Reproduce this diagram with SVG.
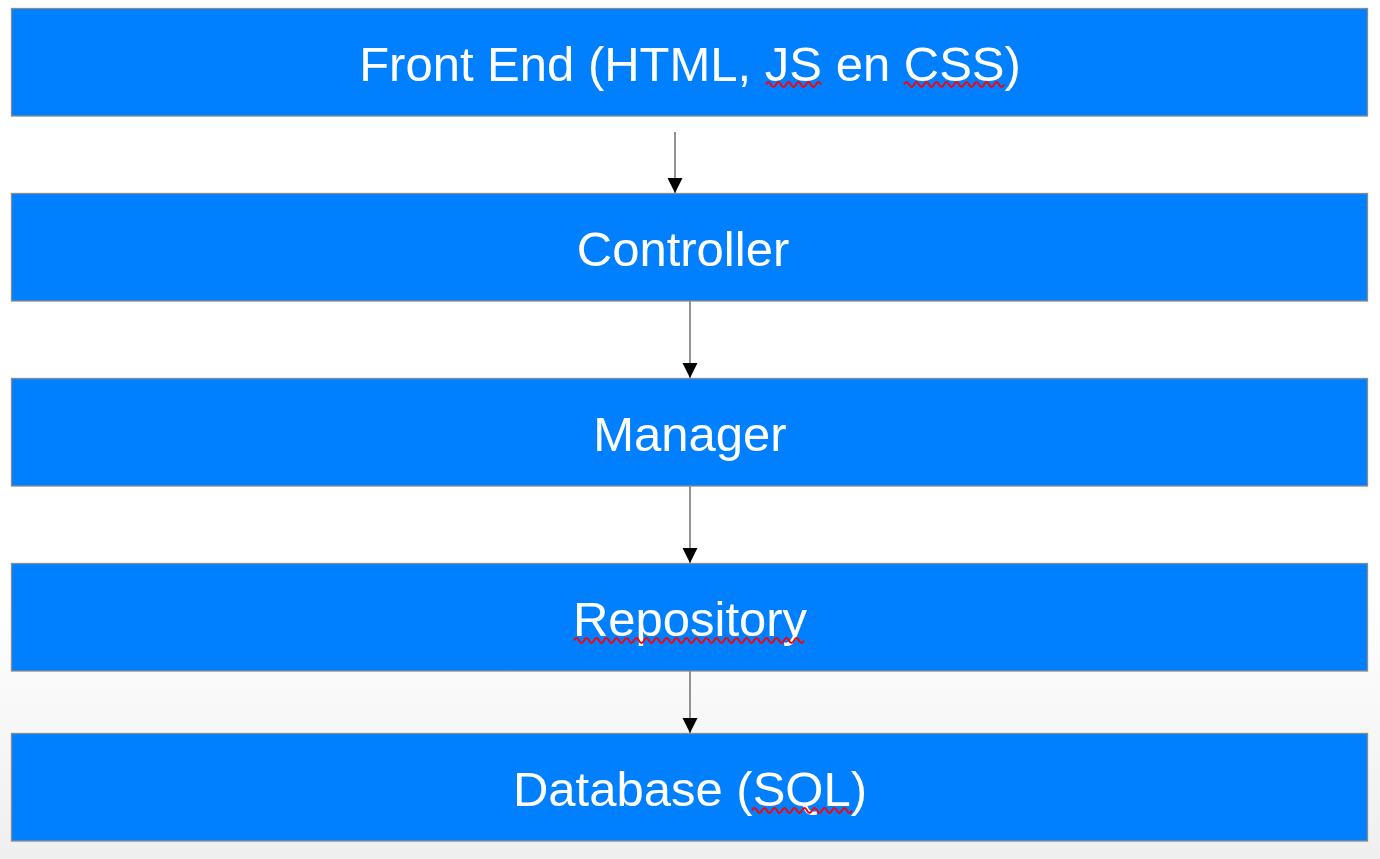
<svg xmlns="http://www.w3.org/2000/svg" width="1380" height="859" viewBox="0 0 1380 859">
<defs>
<linearGradient id="bg" x1="0" y1="0" x2="0" y2="1">
<stop offset="0" stop-color="#ffffff"/>
<stop offset="0.7" stop-color="#ffffff"/>
<stop offset="1" stop-color="#efefef"/>
</linearGradient>
<marker id="arr" markerWidth="16" markerHeight="16" refX="15" refY="7.5" orient="auto" markerUnits="userSpaceOnUse">
<path d="M0,0 L15,7.5 L0,15 Z" fill="#000"/>
</marker>
<style>
.box{fill:#0080ff;stroke:#8a8a8a;stroke-width:1.3}
.lbl{font-family:"Liberation Sans",Arial,sans-serif;font-size:49px;fill:#fff;text-anchor:middle}
.conn{stroke:#6f6f6f;stroke-width:1.5;fill:none;marker-end:url(#arr)}
.sq{stroke:#ff0000;stroke-width:1.8;fill:none}
</style>
</defs>
<rect width="1380" height="859" fill="url(#bg)"/>
<g id="connectors">
<line class="conn" x1="675" y1="132" x2="675" y2="193"/>
<line class="conn" x1="690" y1="301" x2="690" y2="378"/>
<line class="conn" x1="690" y1="486" x2="690" y2="563"/>
<line class="conn" x1="690" y1="671" x2="690" y2="733"/>
</g>
<g id="frontend">
<rect class="box" x="11.5" y="8.5" width="1356" height="107.5"/>
<text class="lbl" x="690" y="81">Front End (HTML, JS en CSS)</text>
<path class="sq" d="M766,84.5 q2.5,-5 5,0 t5,0 t5,0 t5,0 t5,0 t5,0 t5,0 t5,0 t5,0 t5,0 t5,0"/>
<path class="sq" d="M904,84.5 q2.5,-5 5,0 t5,0 t5,0 t5,0 t5,0 t5,0 t5,0 t5,0 t5,0 t5,0 t5,0 t5,0 t5,0 t5,0 t5,0 t5,0 t5,0 t5,0 t5,0 t5,0"/>
</g>
<g id="controller">
<rect class="box" x="11.5" y="193.5" width="1356" height="107.5"/>
<text class="lbl" x="683" y="266">Controller</text>
</g>
<g id="manager">
<rect class="box" x="11.5" y="378.5" width="1356" height="107.5"/>
<text class="lbl" x="690" y="451">Manager</text>
</g>
<g id="repository">
<rect class="box" x="11.5" y="563.5" width="1356" height="107.5"/>
<text class="lbl" x="690" y="636">Repository</text>
<path class="sq" d="M574,640.5 q2.5,-5 5,0 t5,0 t5,0 t5,0 t5,0 t5,0 t5,0 t5,0 t5,0 t5,0 t5,0 t5,0 t5,0 t5,0 t5,0 t5,0 t5,0 t5,0 t5,0 t5,0 t5,0 t5,0 t5,0 t5,0 t5,0 t5,0 t5,0 t5,0 t5,0 t5,0 t5,0 t5,0 t5,0 t5,0 t5,0 t5,0 t5,0 t5,0 t5,0 t5,0 t5,0 t5,0 t5,0 t5,0 t5,0 t5,0"/>
</g>
<g id="database">
<rect class="box" x="11.5" y="733.5" width="1356" height="107.5"/>
<text class="lbl" x="690" y="806">Database (SQL)</text>
<path class="sq" d="M752,810.5 q2.5,-5 5,0 t5,0 t5,0 t5,0 t5,0 t5,0 t5,0 t5,0 t5,0 t5,0 t5,0 t5,0 t5,0 t5,0 t5,0 t5,0 t5,0 t5,0 t5,0 t5,0"/>
</g>
</svg>
